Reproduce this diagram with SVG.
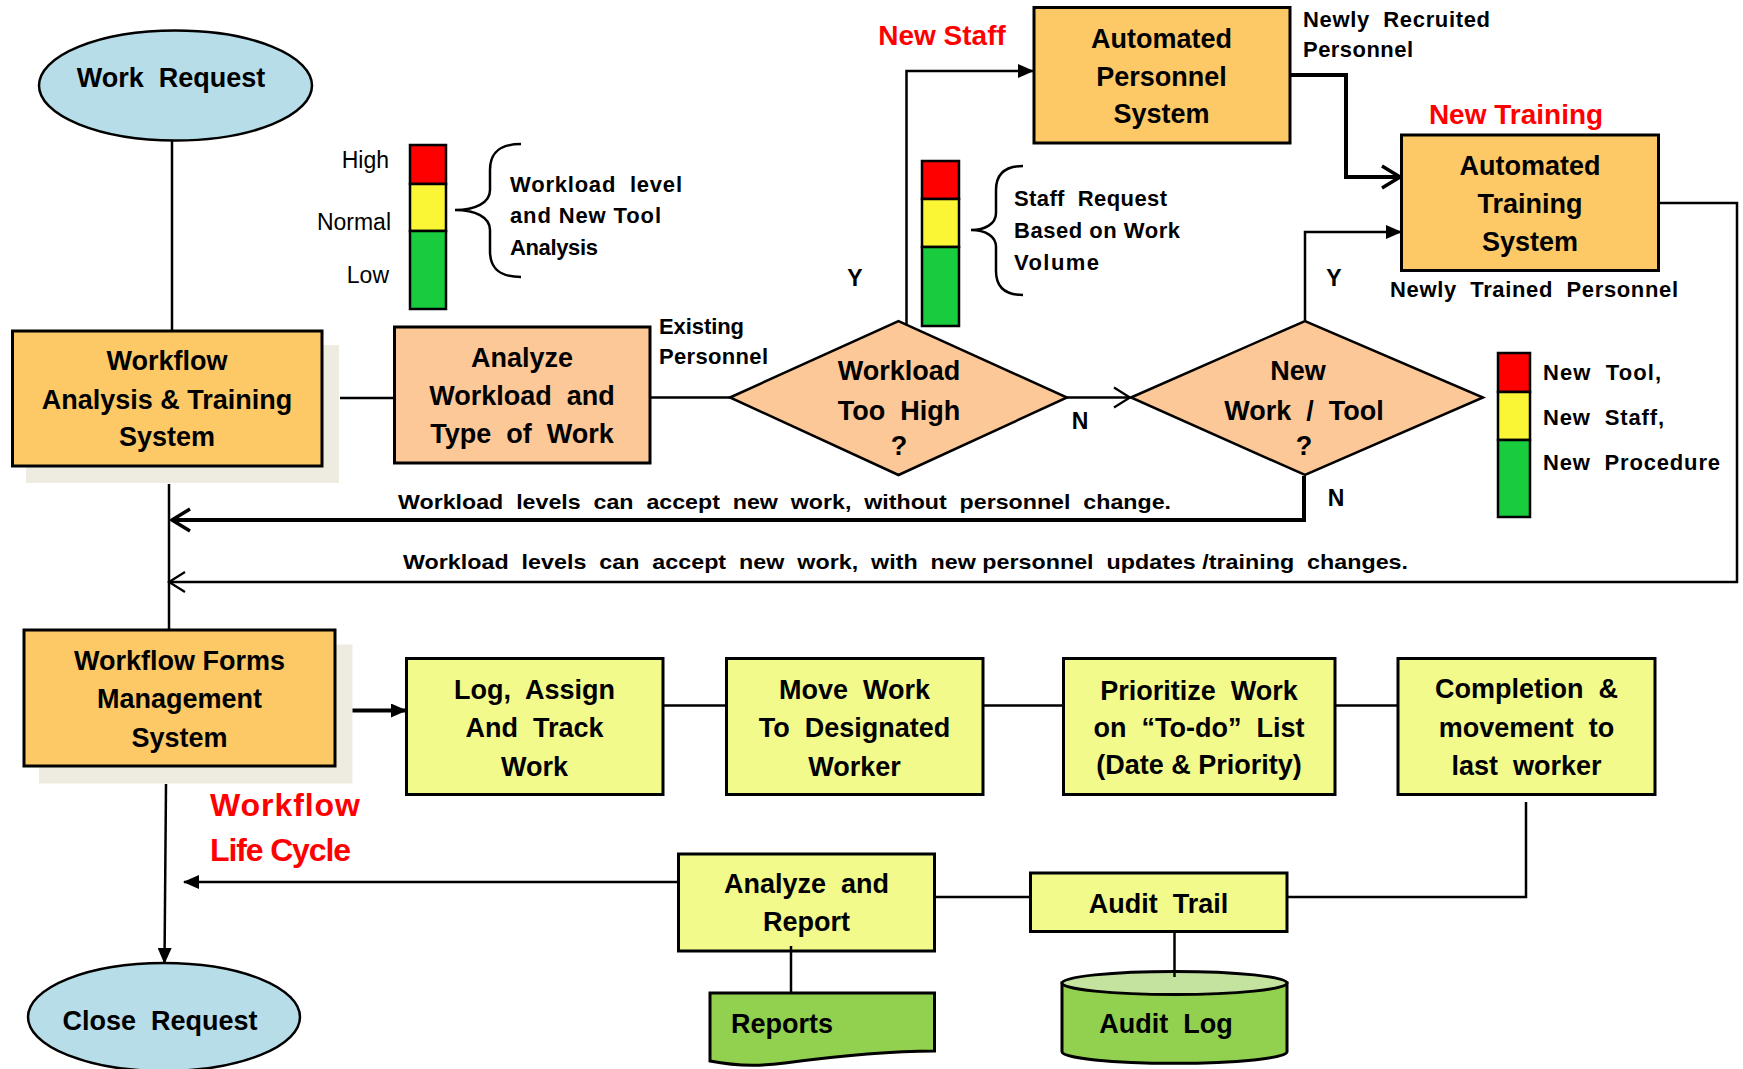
<svg xmlns="http://www.w3.org/2000/svg" width="1743" height="1069" viewBox="0 0 1743 1069">
<style>
text{font-family:"Liberation Sans",Arial,sans-serif;font-weight:bold;fill:#000;white-space:pre}
.bx{font-size:27px;text-anchor:middle}
.lb{font-size:22px}
.yn{font-size:23px;text-anchor:middle}
.red{fill:#FF0000}
.reg{font-weight:normal;font-size:23px;text-anchor:end}
.stk{stroke:#000;stroke-width:3}
.orange{fill:#FCC966}
.peach{fill:#FDC897}
.lime{fill:#F2FA8C}
.green{fill:#92D050}
.oval{fill:#B7DDE8;stroke:#000;stroke-width:2.5}
.shadow{fill:#EEECE1}
.ln{fill:none;stroke:#000;stroke-width:2.5}
.thick{fill:none;stroke:#000;stroke-width:4}
.bar{stroke:#000;stroke-width:2.5}
</style>
<defs>
<marker id="af" viewBox="0 0 16 14" refX="15" refY="7" markerWidth="16" markerHeight="14" markerUnits="userSpaceOnUse" orient="auto"><path d="M0,0 L16,7 L0,14 z" fill="#000"/></marker>
<marker id="cvT" viewBox="0 0 24 26" refX="21" refY="13" markerWidth="24" markerHeight="26" markerUnits="userSpaceOnUse" orient="auto"><path d="M3,2 L21,13 L3,24" fill="none" stroke="#000" stroke-width="3.5"/></marker>
<marker id="cv" viewBox="0 0 22 24" refX="19" refY="12" markerWidth="22" markerHeight="24" markerUnits="userSpaceOnUse" orient="auto"><path d="M3,2 L19,12 L3,22" fill="none" stroke="#000" stroke-width="2.2"/></marker>
</defs>

<g id="work-request">
<ellipse class="oval" cx="175.5" cy="85.5" rx="136.5" ry="55"/>
<text class="bx" x="171" y="87" xml:space="preserve">Work  Request</text>
</g>

<g id="workflow-analysis">
<rect class="shadow" x="26" y="345" width="313" height="138"/>
<rect class="orange stk" x="12.5" y="331" width="309.5" height="135"/>
<text class="bx" x="167" y="370">Workflow</text>
<text class="bx" x="167" y="409">Analysis &amp; Training</text>
<text class="bx" x="167" y="446">System</text>
</g>

<g id="analyze-workload">
<rect class="peach stk" x="394.5" y="327" width="255.5" height="136"/>
<text class="bx" x="522" y="367">Analyze</text>
<text class="bx" x="522" y="405" xml:space="preserve">Workload  and</text>
<text class="bx" x="522" y="443" xml:space="preserve">Type  of  Work</text>
</g>

<g id="workload-legend">
<rect class="bar" x="410" y="145" width="36" height="39" fill="#FF0000"/>
<rect class="bar" x="410" y="184" width="36" height="47" fill="#FAF535"/>
<rect class="bar" x="410" y="231" width="36" height="78" fill="#18CC3E"/>
<text class="reg" x="389" y="168">High</text>
<text class="reg" x="391" y="230">Normal</text>
<text class="reg" x="389" y="283">Low</text>
<path class="ln" d="M521,144 C500,144 490,152 490,170 L490,190 C490,203 475,210 455,210 C475,210 490,217 490,230 L490,251 C490,269 500,277 521,277"/>
<text class="lb" x="510" y="192" textLength="172" xml:space="preserve">Workload  level</text>
<text class="lb" x="510" y="223" textLength="151">and New Tool</text>
<text class="lb" x="510" y="255" textLength="88">Analysis</text>
</g>

<g id="existing-label">
<text class="lb" x="659" y="334" textLength="85">Existing</text>
<text class="lb" x="659" y="364" textLength="109">Personnel</text>
</g>

<g id="decision-workload">
<polygon class="peach" points="730,397.5 898.5,321 1067,397.5 898.5,475" stroke="#000" stroke-width="2.5"/>
<text class="bx" x="899" y="380">Workload</text>
<text class="bx" x="899" y="420" xml:space="preserve">Too  High</text>
<text class="bx" x="899" y="455">?</text>
</g>

<g id="decision-newwork">
<polygon class="peach" points="1131,397.5 1305,321 1483,397.5 1305,475" stroke="#000" stroke-width="2.5"/>
<text class="bx" x="1298" y="380">New</text>
<text class="bx" x="1304" y="420" xml:space="preserve">Work  /  Tool</text>
<text class="bx" x="1304" y="455">?</text>
</g>

<g id="staff-legend">
<rect class="bar" x="922" y="161" width="37" height="38" fill="#FF0000"/>
<rect class="bar" x="922" y="199" width="37" height="48" fill="#FAF535"/>
<rect class="bar" x="922" y="247" width="37" height="79" fill="#18CC3E"/>
<path class="ln" d="M1023,166 C1005,166 996,174 996,190 L996,213 C996,224 985,230 971,230 C985,230 996,236 996,247 L996,271 C996,287 1005,295 1023,295"/>
<text class="lb" x="1014" y="206" textLength="153" xml:space="preserve">Staff  Request</text>
<text class="lb" x="1014" y="238" textLength="166">Based on Work</text>
<text class="lb" x="1014" y="270" textLength="85">Volume</text>
</g>

<g id="tool-legend">
<rect class="bar" x="1498" y="353" width="32" height="39" fill="#FF0000"/>
<rect class="bar" x="1498" y="392" width="32" height="48" fill="#FAF535"/>
<rect class="bar" x="1498" y="440" width="32" height="77" fill="#18CC3E"/>
<text class="lb" x="1543" y="380" textLength="118" xml:space="preserve">New  Tool,</text>
<text class="lb" x="1543" y="425" textLength="121" xml:space="preserve">New  Staff,</text>
<text class="lb" x="1543" y="470" textLength="177" xml:space="preserve">New  Procedure</text>
</g>

<g id="automated-personnel">
<text class="bx red" x="942" y="45" style="font-size:28px">New Staff</text>
<rect class="orange stk" x="1034" y="7.5" width="256" height="135.5"/>
<text class="bx" x="1161.5" y="48">Automated</text>
<text class="bx" x="1161.5" y="86">Personnel</text>
<text class="bx" x="1161.5" y="123">System</text>
<text class="lb" x="1303" y="27" textLength="187" xml:space="preserve">Newly  Recruited</text>
<text class="lb" x="1303" y="57" textLength="110">Personnel</text>
</g>

<g id="automated-training">
<text class="bx red" x="1516" y="124" style="font-size:28px">New Training</text>
<rect class="orange stk" x="1401.5" y="135" width="257" height="135.5"/>
<text class="bx" x="1530" y="175">Automated</text>
<text class="bx" x="1530" y="213">Training</text>
<text class="bx" x="1530" y="251">System</text>
<text class="lb" x="1390" y="297" textLength="288" xml:space="preserve">Newly  Trained  Personnel</text>
</g>

<g id="labels-yn">
<text class="yn" x="855" y="286">Y</text>
<text class="yn" x="1334" y="286">Y</text>
<text class="yn" x="1080" y="429">N</text>
<text class="yn" x="1336" y="506">N</text>
</g>

<g id="return-labels">
<text class="lb" x="398" y="509" style="font-size:21px" textLength="773" lengthAdjust="spacingAndGlyphs" xml:space="preserve">Workload  levels  can  accept  new  work,  without  personnel  change.</text>
<text class="lb" x="403" y="569" style="font-size:21px" textLength="1005" lengthAdjust="spacingAndGlyphs" xml:space="preserve">Workload  levels  can  accept  new  work,  with  new personnel  updates /training  changes.</text>
</g>

<g id="workflow-forms">
<rect class="shadow" x="39" y="644.5" width="313.5" height="139"/>
<rect class="orange stk" x="24" y="630" width="311" height="136"/>
<text class="bx" x="179.5" y="670">Workflow Forms</text>
<text class="bx" x="179.5" y="708">Management</text>
<text class="bx" x="179.5" y="747">System</text>
</g>

<g id="lifecycle-label">
<text class="red" x="210" y="816" style="font-size:32px" textLength="150">Workflow</text>
<text class="red" x="210" y="861" style="font-size:32px" textLength="141">Life Cycle</text>
</g>

<g id="log-assign">
<rect class="lime stk" x="406.5" y="658.5" width="256.5" height="136"/>
<text class="bx" x="534.5" y="699" xml:space="preserve">Log,  Assign</text>
<text class="bx" x="534.5" y="737" xml:space="preserve">And  Track</text>
<text class="bx" x="534.5" y="776">Work</text>
</g>

<g id="move-work">
<rect class="lime stk" x="726.5" y="658.5" width="256.5" height="136"/>
<text class="bx" x="854.5" y="699" xml:space="preserve">Move  Work</text>
<text class="bx" x="854.5" y="737" xml:space="preserve">To  Designated</text>
<text class="bx" x="854.5" y="776">Worker</text>
</g>

<g id="prioritize">
<rect class="lime stk" x="1063.5" y="658.5" width="271.5" height="136"/>
<text class="bx" x="1199" y="700" xml:space="preserve">Prioritize  Work</text>
<text class="bx" x="1199" y="737" xml:space="preserve">on  “To-do”  List</text>
<text class="bx" x="1199" y="774">(Date &amp; Priority)</text>
</g>

<g id="completion">
<rect class="lime stk" x="1398" y="658.5" width="257" height="136"/>
<text class="bx" x="1526.5" y="698" xml:space="preserve">Completion  &amp;</text>
<text class="bx" x="1526.5" y="737" xml:space="preserve">movement  to</text>
<text class="bx" x="1526.5" y="775" xml:space="preserve">last  worker</text>
</g>

<g id="audit-trail">
<rect class="lime stk" x="1030.5" y="873" width="256.5" height="58.5"/>
<text class="bx" x="1158.5" y="913" xml:space="preserve">Audit  Trail</text>
</g>

<g id="audit-log">
<path class="green" d="M1062,983 L1062,1051.7 A112.5,11.6 0 0 0 1287,1051.7 L1287,983 Z" stroke="#000" stroke-width="3"/>
<ellipse cx="1174.5" cy="983" rx="112.5" ry="11.5" fill="#C3E39E" stroke="#000" stroke-width="3"/>
<text class="bx" x="1166" y="1033" xml:space="preserve">Audit  Log</text>
</g>

<g id="analyze-report">
<rect class="lime stk" x="678.5" y="854" width="256" height="97"/>
<text class="bx" x="806.5" y="893" xml:space="preserve">Analyze  and</text>
<text class="bx" x="806.5" y="931">Report</text>
</g>

<g id="reports">
<path class="green" d="M710,993 H934.5 V1051 C885,1051 830,1057 785,1063 C755,1067 730,1065 710,1061 Z" stroke="#000" stroke-width="3"/>
<text class="bx" x="731" y="1033" style="text-anchor:start">Reports</text>
</g>

<g id="close-request">
<ellipse class="oval" cx="164" cy="1017" rx="136" ry="54"/>
<text class="bx" x="160" y="1030" xml:space="preserve">Close  Request</text>
</g>

<g id="connectors">
<path class="ln" d="M172,141 V331"/>
<path class="ln" d="M340,398 H394.5"/>
<path class="ln" d="M650,397.5 H730"/>
<path class="ln" d="M1067,397.5 H1130" marker-end="url(#cv)"/>
<path class="ln" d="M906.5,325 V71 H1033" marker-end="url(#af)"/>
<path class="thick" d="M1290,75 H1346 V177 H1400" marker-end="url(#cvT)"/>
<path class="ln" d="M1305,321 V232 H1401" marker-end="url(#af)"/>
<path class="thick" d="M1304,476 V520 H172" marker-end="url(#cvT)"/>
<path class="ln" d="M1659,203 H1737 V582 H169" marker-end="url(#cv)"/>
<path class="ln" d="M169,484 V630"/>
<path class="thick" d="M352.5,710.5 H406" marker-end="url(#af)"/>
<path class="ln" d="M663,705.5 H726.5"/>
<path class="ln" d="M983,705.5 H1063.5"/>
<path class="ln" d="M1335,705.5 H1398"/>
<path class="ln" d="M1526,802 V897 H1287"/>
<path class="ln" d="M1030.5,897 H934.5"/>
<path class="ln" d="M678.5,882 H184" marker-end="url(#af)"/>
<path class="ln" d="M791,946 V993"/>
<path class="ln" d="M1174.5,932 V977"/>
<path class="ln" d="M166,784 L164.5,963" marker-end="url(#af)"/>
</g>
</svg>
